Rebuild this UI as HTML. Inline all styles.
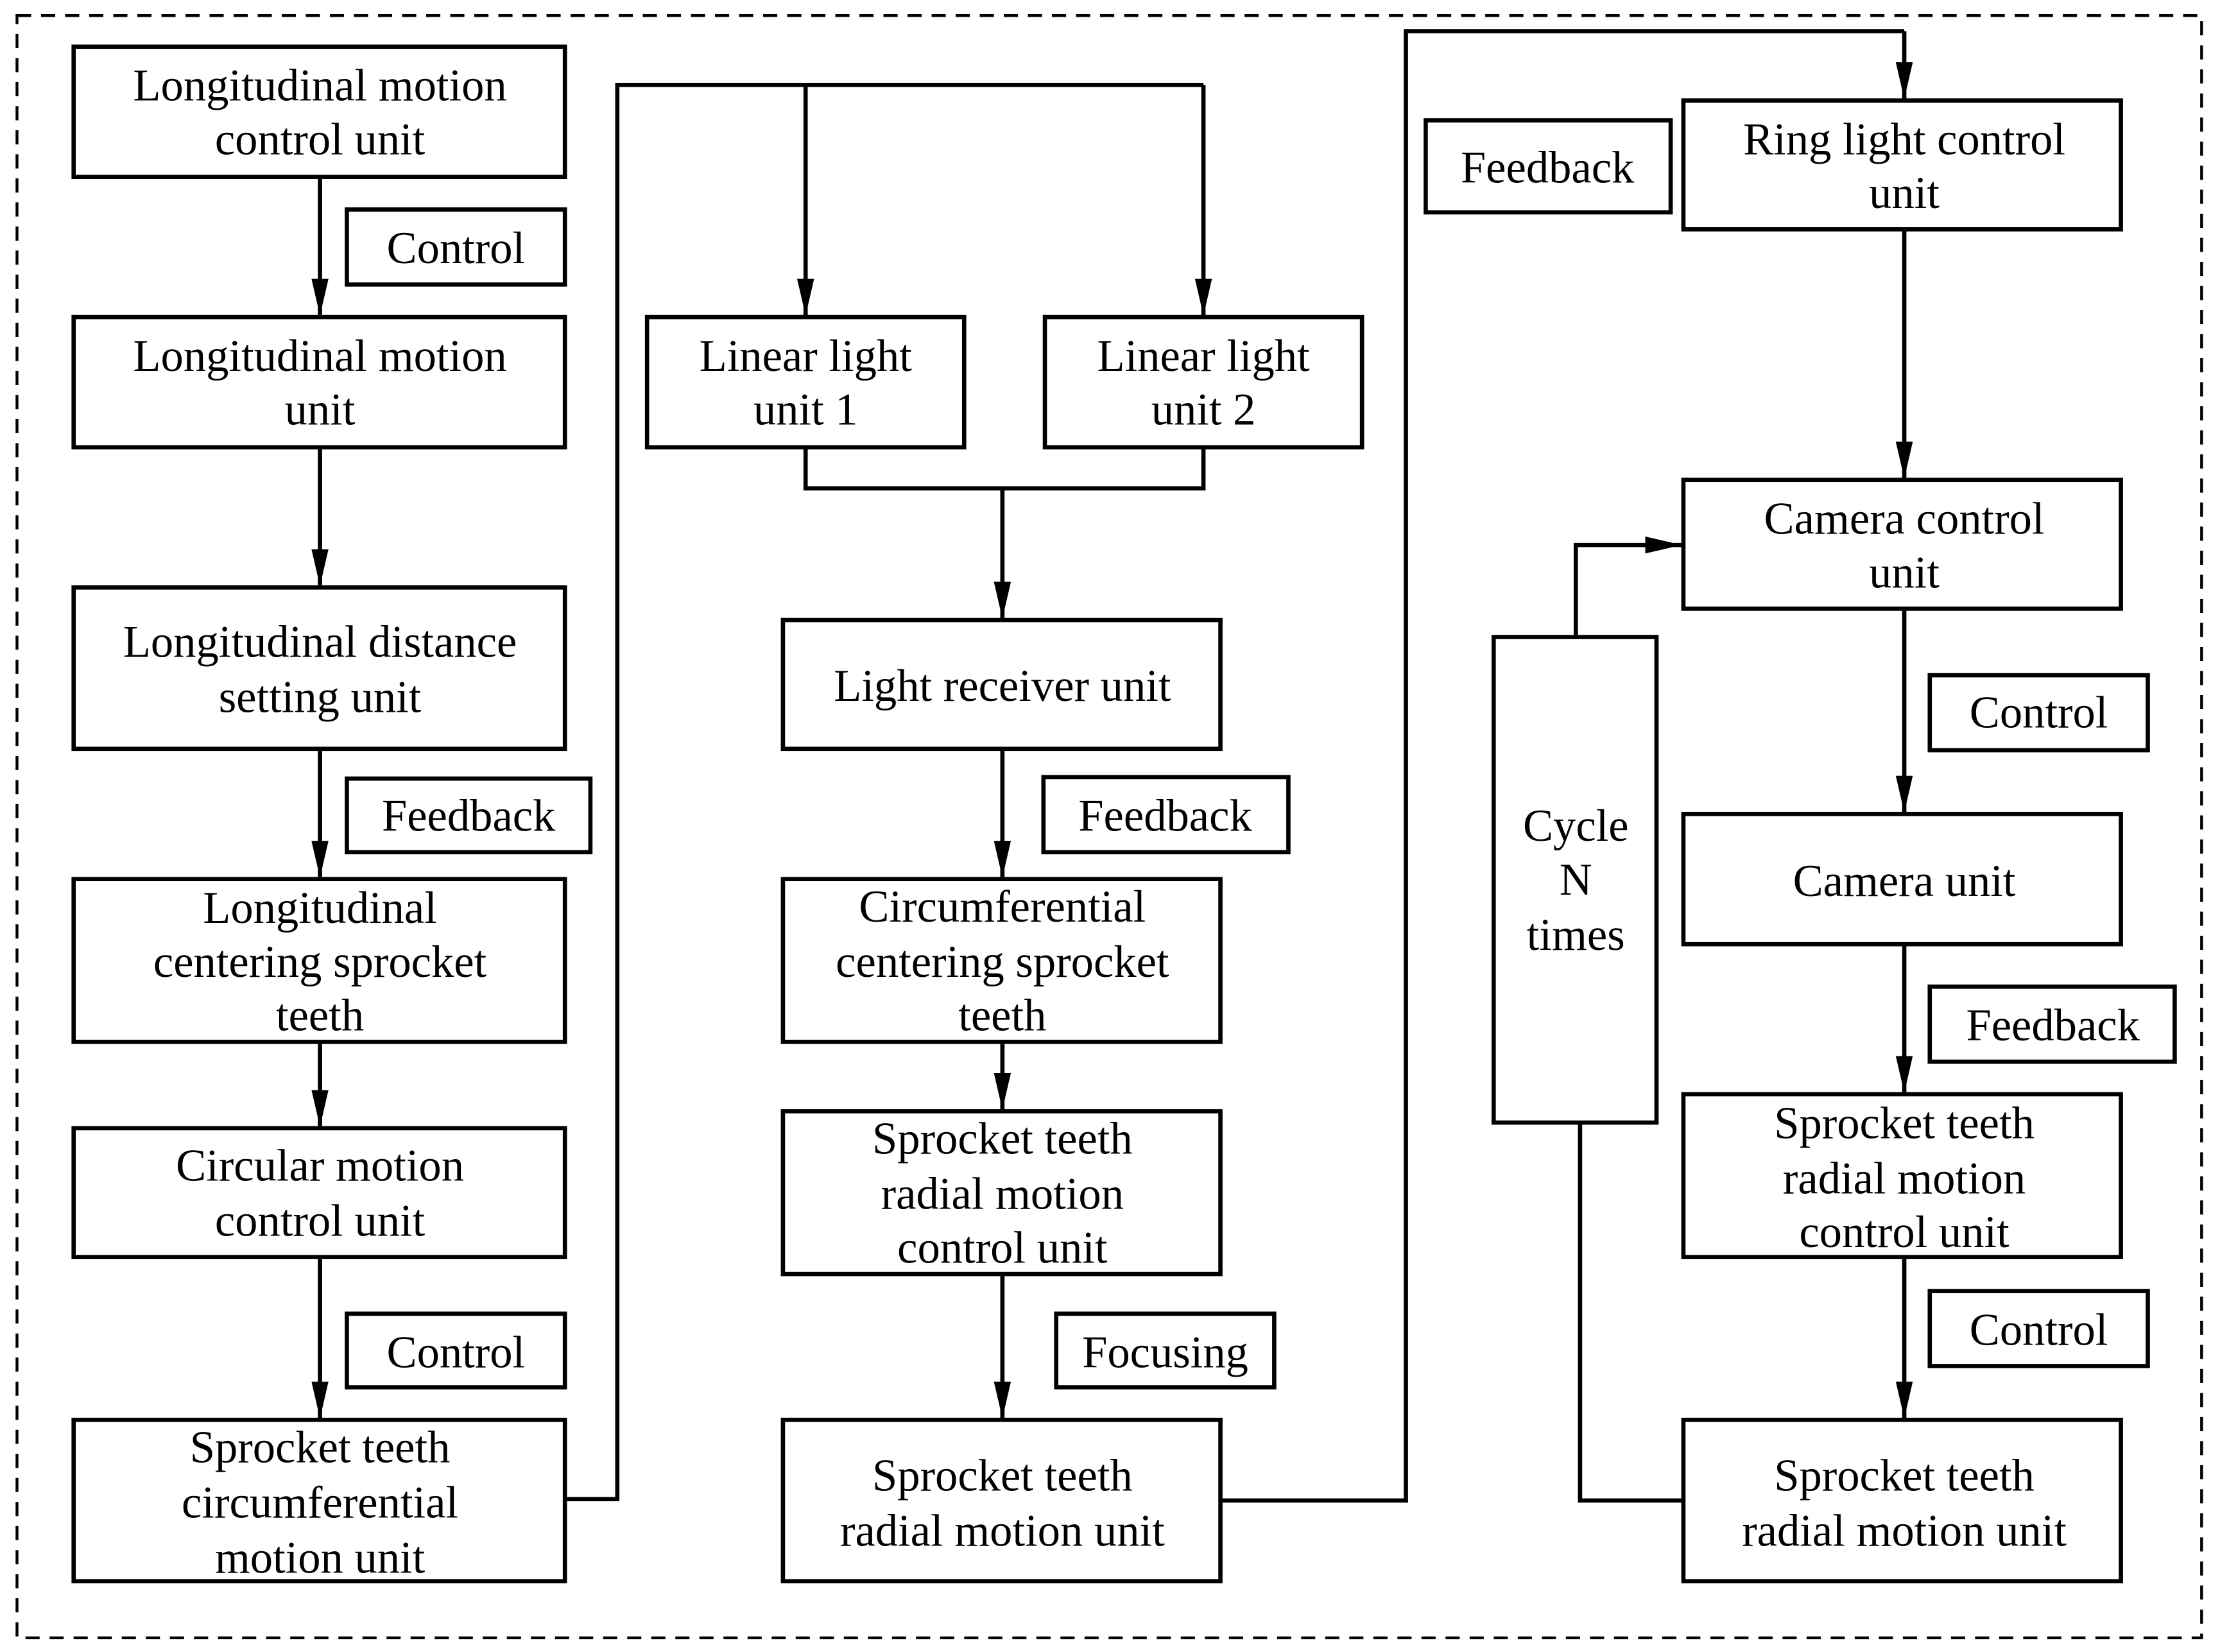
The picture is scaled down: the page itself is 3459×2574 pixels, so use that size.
<!DOCTYPE html>
<html><head><meta charset="utf-8"><style>html,body{margin:0;padding:0;background:#fff}svg{display:block}</style></head>
<body>
<svg width="3459" height="2574" viewBox="0 0 1568 1167" preserveAspectRatio="none" xmlns="http://www.w3.org/2000/svg">
<defs>
<marker id="a" markerWidth="26" markerHeight="12" refX="26" refY="6" orient="auto" markerUnits="userSpaceOnUse" viewBox="0 0 26 12"><path d="M0,0 L26,6 L0,12 Z" fill="#000"/></marker>
</defs>
<rect x="12" y="11" width="1543" height="1146" fill="none" stroke="#000" stroke-width="2" stroke-dasharray="10,7"/>
<g fill="none" stroke="#000" stroke-width="3">
<rect x="52" y="33" width="347" height="92"/>
<rect x="245" y="148" width="154" height="53"/>
<rect x="52" y="224" width="347" height="92"/>
<rect x="52" y="415" width="347" height="114"/>
<rect x="245" y="550" width="172" height="52"/>
<rect x="52" y="621" width="347" height="115"/>
<rect x="52" y="797" width="347" height="91"/>
<rect x="245" y="928" width="154" height="52"/>
<rect x="52" y="1003" width="347" height="114"/>
<rect x="457" y="224" width="224" height="92"/>
<rect x="738" y="224" width="224" height="92"/>
<rect x="553" y="438" width="309" height="91"/>
<rect x="737" y="549" width="173" height="53"/>
<rect x="553" y="621" width="309" height="115"/>
<rect x="553" y="785" width="309" height="115"/>
<rect x="746" y="928" width="154" height="52"/>
<rect x="553" y="1003" width="309" height="114"/>
<rect x="1007" y="85" width="173" height="65"/>
<rect x="1189" y="71" width="309" height="91"/>
<rect x="1189" y="339" width="309" height="91"/>
<rect x="1055" y="450" width="115" height="343"/>
<rect x="1363" y="477" width="154" height="53"/>
<rect x="1189" y="575" width="309" height="92"/>
<rect x="1363" y="697" width="173" height="53"/>
<rect x="1189" y="773" width="309" height="115"/>
<rect x="1363" y="912" width="154" height="53"/>
<rect x="1189" y="1003" width="309" height="114"/>
<g marker-end="url(#a)">
<path d="M226,125V223"/><path d="M226,316V414"/><path d="M226,529V620"/><path d="M226,736V796"/><path d="M226,888V1002"/>
<path d="M569,60V223"/><path d="M850,60V223"/>
<path d="M708,345V437"/><path d="M708,529V620"/><path d="M708,736V784"/><path d="M708,900V1002"/>
<path d="M1345,22V70"/>
<path d="M1345,162V338"/><path d="M1345,430V574"/><path d="M1345,667V772"/><path d="M1345,888V1002"/>
<path d="M1113,450V385H1188"/>
</g>
<path d="M862,1060H993V22H1345"/>
<path d="M399,1059H436V60H850"/>
<path d="M569,316V345H850V316"/>
<path d="M1189,1060H1116V793"/>
</g>
<g font-family="'Liberation Serif',serif" font-size="32" text-anchor="middle" fill="#000">
<text x="226" y="71">Longitudinal motion</text><text x="226" y="109">control unit</text>
<text x="322" y="186">Control</text>
<text x="226" y="262">Longitudinal motion</text><text x="226" y="300">unit</text>
<text x="226" y="464">Longitudinal distance</text><text x="226" y="503">setting unit</text>
<text x="331" y="587">Feedback</text>
<text x="226" y="652">Longitudinal</text><text x="226" y="690">centering sprocket</text><text x="226" y="728">teeth</text>
<text x="226" y="834">Circular motion</text><text x="226" y="873">control unit</text>
<text x="322" y="966">Control</text>
<text x="226" y="1033">Sprocket teeth</text><text x="226" y="1072">circumferential</text><text x="226" y="1111">motion unit</text>
<text x="569" y="262">Linear light</text><text x="569" y="300">unit 1</text>
<text x="850" y="262">Linear light</text><text x="850" y="300">unit 2</text>
<text x="708" y="495">Light receiver unit</text>
<text x="823" y="587">Feedback</text>
<text x="708" y="651">Circumferential</text><text x="708" y="690">centering sprocket</text><text x="708" y="728">teeth</text>
<text x="708" y="815">Sprocket teeth</text><text x="708" y="854">radial motion</text><text x="708" y="892">control unit</text>
<text x="823" y="966">Focusing</text>
<text x="708" y="1053">Sprocket teeth</text><text x="708" y="1092">radial motion  unit</text>
<text x="1093" y="129">Feedback</text>
<text x="1345" y="109">Ring light  control</text><text x="1345" y="147">unit</text>
<text x="1345" y="377">Camera control</text><text x="1345" y="415">unit</text>
<text x="1113" y="594">Cycle</text><text x="1113" y="632">N</text><text x="1113" y="671">times</text>
<text x="1440" y="514">Control</text>
<text x="1345" y="633">Camera  unit</text>
<text x="1450" y="735">Feedback</text>
<text x="1345" y="804">Sprocket teeth</text><text x="1345" y="843">radial motion</text><text x="1345" y="881">control unit</text>
<text x="1440" y="950">Control</text>
<text x="1345" y="1053">Sprocket teeth</text><text x="1345" y="1092">radial motion  unit</text>
</g>
</svg>
</body></html>
